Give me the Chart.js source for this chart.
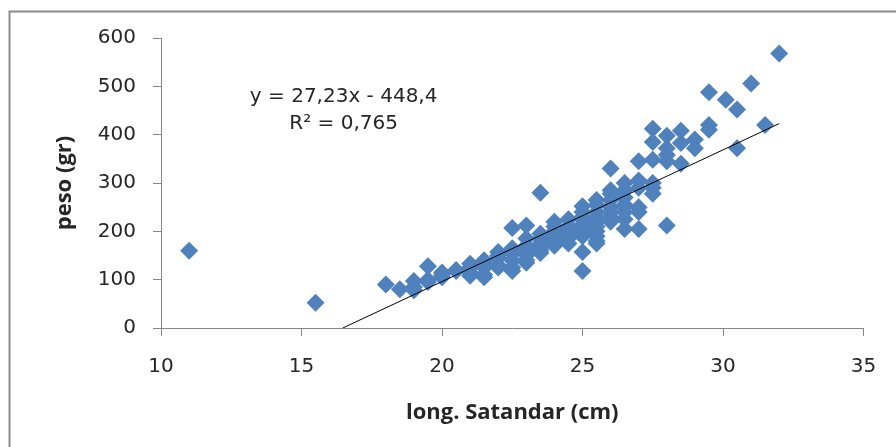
<!DOCTYPE html>
<html>
<head>
<meta charset="utf-8">
<script src="https://cdn.jsdelivr.net/npm/chart.js@4"></script>
<style>
  html, body { margin:0; padding:0; background:#fff; }
  #wrap { width:896px; height:447px; }
</style>
</head>
<body>
<div id="wrap"><canvas id="pesoChart" width="896" height="447"></canvas></div>
<script>
// long. Satandar (cm) vs peso (gr)
const lenX = [
  11, 15.5, 18, 18.5,
  19, 19, 19,
  19.5, 19.5, 19.5,
  20, 20, 20,
  20.5, 20.5,
  21, 21, 21, 21,
  21.5, 21.5, 21.5, 21.5, 21.5,
  22, 22, 22, 22, 22,
  22.5, 22.5, 22.5, 22.5, 22.5, 22.5, 22.5,
  23, 23, 23, 23, 23, 23, 23,
  23.5, 23.5, 23.5, 23.5, 23.5, 23.5, 23.5,
  24, 24, 24, 24, 24, 24, 24,
  24.5, 24.5, 24.5, 24.5, 24.5, 24.5, 24.5,
  25, 25, 25, 25, 25, 25, 25, 25, 25, 25,
  25.5, 25.5, 25.5, 25.5, 25.5, 25.5, 25.5, 25.5, 25.5, 25.5,
  26, 26, 26, 26, 26, 26, 26, 26, 26,
  26.5, 26.5, 26.5, 26.5, 26.5, 26.5, 26.5, 26.5,
  27, 27, 27, 27, 27, 27,
  27.5, 27.5, 27.5, 27.5, 27.5, 27.5,
  28, 28, 28, 28, 28,
  28.5, 28.5, 28.5,
  29, 29,
  29.5, 29.5, 29.5,
  30.1, 30.5, 30.5, 31, 31.5, 32
];
const pesoY = [
  160, 52, 90, 80,
  97, 85, 78,
  128, 100, 95,
  115, 105, 110,
  120, 118,
  133, 115, 108, 125,
  137, 125, 110, 105, 140,
  157, 145, 130, 150, 125,
  207, 165, 155, 140, 125, 118, 160,
  212, 170, 160, 150, 140, 135, 185,
  280, 185, 175, 165, 155, 160, 195,
  220, 200, 190, 180, 175, 170, 210,
  225, 210, 195, 185, 175, 205, 200,
  252, 240, 225, 215, 205, 195, 190, 157, 118, 230,
  265, 255, 240, 230, 220, 210, 200, 190, 180, 175,
  330, 285, 278, 265, 250, 240, 230, 228, 220,
  300, 285, 270, 255, 250, 240, 225, 205,
  345, 305, 290, 250, 240, 205,
  412, 385, 348, 300, 290, 278,
  398, 372, 358, 345, 212,
  408, 383, 340,
  390, 372,
  488, 420, 410,
  472, 452, 372, 506, 420, 568
];
// linear trendline end points (y = 27,23x - 448,4)
const trendX = [16.47, 32];
const trendY = [0, 423];
const eqLines = ['y = 27,23x - 448,4', 'R\u00b2 = 0,765'];
const eqAnchor = [16.5, 478];
const xTicks = [10, 15, 20, 25, 30, 35];
const yTicks = [0, 100, 200, 300, 400, 500, 600];

const axisGray = '#868686';
const textCol = '#262626';

const frame = {
  id: 'frame',
  beforeDraw(c) {
    const ctx = c.ctx;
    ctx.save();
    ctx.fillStyle = '#fff';
    ctx.fillRect(0, 0, c.width, c.height);
    ctx.strokeStyle = '#8a8a8a';
    ctx.lineWidth = 2;
    ctx.strokeRect(9.5, 11.5, 900, 460);
    ctx.restore();
  },
  afterDraw(c) {
    const ctx = c.ctx, xs = c.scales.x, ys = c.scales.y;
    const cx = xs.getPixelForValue(eqAnchor[0]);
    const cy = ys.getPixelForValue(eqAnchor[1]);
    ctx.save();
    ctx.font = '20px "DejaVu Sans"';
    ctx.fillStyle = textCol;
    ctx.textAlign = 'center';
    ctx.textBaseline = 'middle';
    eqLines.forEach((t, i) => ctx.fillText(t, cx, cy + i * 27));
    ctx.restore();
  }
};

const ctx = document.getElementById('pesoChart').getContext('2d');
new Chart(ctx, {
  type: 'scatter',
  data: {
    datasets: [
      {
        label: 'tendencia',
        type: 'line',
        data: trendX.map((x, i) => ({ x: x, y: trendY[i] })),
        borderColor: '#000',
        borderWidth: 1,
        pointRadius: 0,
        fill: false,
        order: 0
      },
      {
        label: 'peso',
        data: lenX.map((x, i) => ({ x: x, y: pesoY[i] })),
        pointStyle: 'rectRot',
        pointRadius: 9,
        pointBackgroundColor: '#4F81BD',
        pointBorderColor: '#4F81BD',
        pointBorderWidth: 0,
        order: 1
      }
    ]
  },
  options: {
    responsive: false,
    devicePixelRatio: 1,
    animation: false,
    layout: { padding: { left: 0, top: 38, right: 32.5, bottom: 0 } },
    plugins: { legend: { display: false }, tooltip: { enabled: false } },
    scales: {
      x: {
        type: 'linear', min: 10, max: 35,
        afterFit: s => { s.height = 119; },
        afterBuildTicks: s => { s.ticks = xTicks.map(v => ({ value: v })); },
        grid: { drawOnChartArea: false, drawTicks: true, tickLength: 8, color: axisGray },
        border: { color: axisGray, width: 1 },
        ticks: { padding: 19, color: textCol, font: { family: 'DejaVu Sans', size: 20 }, maxRotation: 0 },
        title: { display: true, text: 'long. Satandar (cm)', color: textCol,
          font: { family: 'Open Sans', size: 22, weight: 'bold' }, padding: { top: 0, bottom: 21 } }
      },
      y: {
        type: 'linear', min: 0, max: 600,
        afterFit: s => { s.width = 161; },
        afterBuildTicks: s => { s.ticks = yTicks.map(v => ({ value: v })); },
        grid: { drawOnChartArea: false, drawTicks: true, tickLength: 8, color: axisGray },
        border: { color: axisGray, width: 1 },
        ticks: { padding: 17, color: textCol, font: { family: 'DejaVu Sans', size: 20 } },
        title: { display: true, text: 'peso (gr)', color: textCol,
          font: { family: 'Open Sans', size: 22, weight: 'bold' }, padding: { top: 52, bottom: 0 } }
      }
    }
  },
  plugins: [frame]
});
</script>
</body>
</html>
